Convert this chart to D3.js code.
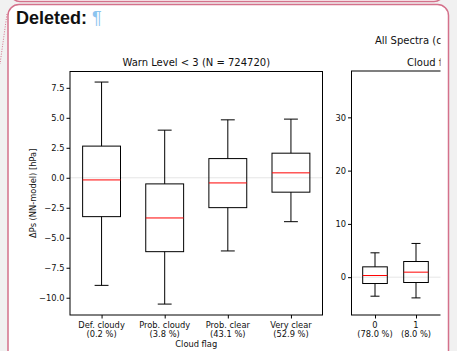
<!DOCTYPE html>
<html>
<head>
<meta charset="utf-8">
<script src="https://cdn.jsdelivr.net/npm/d3@7"></script>
<style>
  html, body { margin: 0; padding: 0; background: #f1f1f1; }
  svg { display: block; font-family: "DejaVu Sans", sans-serif; }
</style>
</head>
<body>
<svg id="chart" width="457" height="351"></svg>
<script>
// Cloud-flag categories for the warn-level panel
const categories = ["Def. cloudy", "Prob. cloudy", "Prob. clear", "Very clear"];
const shares = ["(0.2 %)", "(3.8 %)", "(43.1 %)", "(52.9 %)"];
// Box statistics: lower whisker, Q1, median, Q3, upper whisker [hPa]
const whiskerLow = [-8.97, -10.53, -6.10, -3.66];
const q1 = [-3.24, -6.16, -2.49, -1.20];
const median = [-0.18, -3.35, -0.43, 0.41];
const q3 = [2.64, -0.51, 1.60, 2.05];
const whiskerHigh = [7.98, 3.97, 4.83, 4.89];
const leftTicks = [-10, -7.5, -5, -2.5, 0, 2.5, 5, 7.5];

// All-spectra panel (integer cloud flags)
const flagCategories = ["0", "1"];
const flagShares = ["(78.0 %)", "(8.0 %)"];
const flagLow = [-3.57, -3.89];
const flagQ1 = [-1.19, -1.00];
const flagMedian = [0.31, 0.94];
const flagQ3 = [1.94, 2.94];
const flagHigh = [4.57, 6.33];
const rightTicks = [0, 10, 20, 30];

const svg = d3.select("#chart");
const pink = "#d4718b";
const FS = 8.3;

// Note frame: tail of the previous balloon and the current one
svg.append("rect").attr("x", 10).attr("y", -30).attr("width", 434).attr("height", 31.5)
  .attr("rx", 10).attr("fill", "#ffffff").attr("stroke", pink).attr("stroke-width", 1.5);
svg.append("rect").attr("x", 8).attr("y", 4.5).attr("width", 440.5).attr("height", 380)
  .attr("rx", 11).attr("fill", "#ffffff").attr("stroke", pink).attr("stroke-width", 1.5);
svg.append("line").attr("x1", 7).attr("y1", 14).attr("x2", 0).attr("y2", 64)
  .attr("stroke", pink).attr("stroke-width", 1).attr("stroke-dasharray", "1,1.5");

const head = svg.append("text").attr("x", 16).attr("y", 24).attr("font-size", 18)
  .attr("font-family", "Liberation Sans, Arial, sans-serif");
head.append("tspan").attr("font-weight", "bold").attr("fill", "#111").text("Deleted: ");
head.append("tspan").attr("fill", "#8cc4ef").text("¶");

// Figure area, cut off at the right edge of the frame
svg.append("clipPath").attr("id", "figclip").append("rect")
  .attr("x", 9).attr("y", 30).attr("width", 431.5).attr("height", 330);
const fig = svg.append("g").attr("clip-path", "url(#figclip)");

fig.append("text").attr("x", 375).attr("y", 43.5).attr("text-anchor", "start")
  .attr("font-size", 10).attr("fill", "#111").text("All Spectra (cloud flag)");

function boxPanel(g, x, y, lo, a, m, b, hi) {
  const step = x(1) - x(0);
  const boxW = step * 0.6, capW = step * 0.22;
  lo.forEach((_, i) => {
    const cx = x(i);
    const grp = g.append("g").attr("stroke-width", 1);
    grp.append("line").attr("x1", cx).attr("x2", cx).attr("y1", y(hi[i])).attr("y2", y(b[i])).attr("stroke", "#000");
    grp.append("line").attr("x1", cx).attr("x2", cx).attr("y1", y(a[i])).attr("y2", y(lo[i])).attr("stroke", "#000");
    grp.append("line").attr("x1", cx - capW / 2).attr("x2", cx + capW / 2).attr("y1", y(hi[i])).attr("y2", y(hi[i])).attr("stroke", "#000");
    grp.append("line").attr("x1", cx - capW / 2).attr("x2", cx + capW / 2).attr("y1", y(lo[i])).attr("y2", y(lo[i])).attr("stroke", "#000");
    grp.append("rect").attr("x", cx - boxW / 2).attr("y", y(b[i])).attr("width", boxW)
      .attr("height", y(a[i]) - y(b[i])).attr("fill", "none").attr("stroke", "#000");
    grp.append("line").attr("x1", cx - boxW / 2).attr("x2", cx + boxW / 2).attr("y1", y(m[i])).attr("y2", y(m[i])).attr("stroke", "#ff0000");
  });
}

function drawAxes(g, x, y, l, r, t, bt, yTicks, fmt, cats, sub) {
  // zero reference line
  g.append("line").attr("x1", l).attr("x2", r).attr("y1", y(0)).attr("y2", y(0))
    .attr("stroke", "#e6e6e6").attr("stroke-width", 1);
  const ya = d3.axisLeft(y).tickValues(yTicks).tickSize(3.5).tickPadding(2).tickFormat(fmt);
  const yg = g.append("g").attr("transform", `translate(${l},0)`).call(ya);
  yg.select(".domain").remove();
  yg.selectAll("text").attr("font-size", FS).attr("font-family", "DejaVu Sans").attr("fill", "#111");
  const xa = d3.axisBottom(x).tickValues(d3.range(cats.length)).tickSize(3.5).tickFormat(() => "");
  const xg = g.append("g").attr("transform", `translate(0,${bt})`).call(xa);
  xg.select(".domain").remove();
  cats.forEach((c, i) => {
    const tx = g.append("text").attr("x", x(i)).attr("y", bt + 12.5).attr("text-anchor", "middle")
      .attr("font-size", FS).attr("fill", "#111");
    tx.append("tspan").attr("x", x(i)).text(c);
    tx.append("tspan").attr("x", x(i)).attr("dy", 9.2).text(sub[i]);
  });
  g.append("rect").attr("x", l).attr("y", t).attr("width", r - l).attr("height", bt - t)
    .attr("fill", "none").attr("stroke", "#000").attr("stroke-width", 1);
}

const minusFmt = d => (d < 0 ? "\u2212" : "") + Math.abs(d).toFixed(1);

// Left panel
const L = { l: 70, r: 322.5, t: 71.5, b: 315 };
const xL = d3.scaleLinear().domain([-0.5, 3.5]).range([L.l, L.r]);
const yL = d3.scaleLinear().domain([-11.44, 8.86]).range([L.b, L.t]);
const gL = fig.append("g");
drawAxes(gL, xL, yL, L.l, L.r, L.t, L.b, leftTicks, minusFmt, categories, shares);
boxPanel(gL, xL, yL, whiskerLow, q1, median, q3, whiskerHigh);
gL.append("text").attr("x", (L.l + L.r) / 2).attr("y", 65.5).attr("text-anchor", "middle")
  .attr("font-size", 10).attr("fill", "#111").text("Warn Level < 3 (N = 724720)");
gL.append("text").attr("x", (L.l + L.r) / 2).attr("y", 346.5).attr("text-anchor", "middle")
  .attr("font-size", FS).attr("fill", "#111").text("Cloud flag");
gL.append("text").attr("transform", `translate(36,${(L.t + L.b) / 2}) rotate(-90)`)
  .attr("text-anchor", "middle").attr("font-size", FS).attr("fill", "#111").text("ΔPs (NN-model) [hPa]");

// Right panel
const R = { l: 351.5, r: 500, t: 71, b: 315 };
const xR = d3.scaleLinear().domain([0, 1]).range([375, 416]);
const yR = d3.scaleLinear().domain([-7.1, 38.7]).range([R.b, R.t]);
const gR = fig.append("g");
drawAxes(gR, xR, yR, R.l, R.r, R.t, R.b, rightTicks, d3.format("d"), flagCategories, flagShares);
boxPanel(gR, xR, yR, flagLow, flagQ1, flagMedian, flagQ3, flagHigh);
gR.append("text").attr("x", 407).attr("y", 65.5).attr("text-anchor", "start")
  .attr("font-size", 10).attr("fill", "#111").text("Cloud flag = 0, 1, 2");
</script>
</body>
</html>
